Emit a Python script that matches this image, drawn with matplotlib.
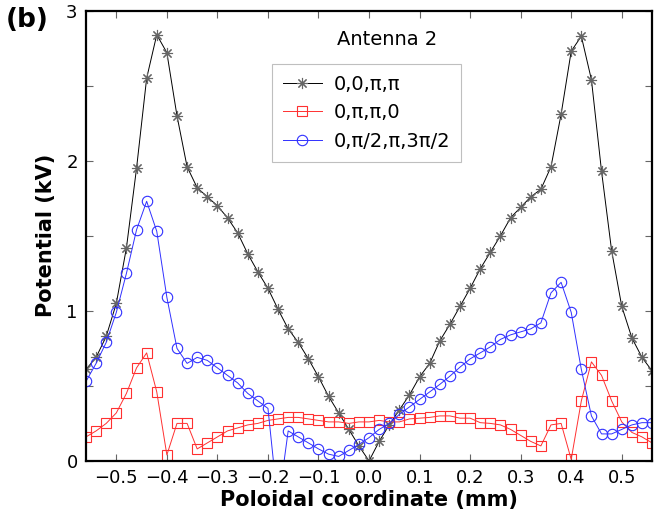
import matplotlib
matplotlib.use("Agg")
import matplotlib.pyplot as plt
from matplotlib.ticker import MultipleLocator

# Poloidal coordinate (mm), shared by all three curves
x_mm = [-0.56, -0.54, -0.52, -0.50, -0.48, -0.46, -0.44, -0.42, -0.40, -0.38,
        -0.36, -0.34, -0.32, -0.30, -0.28, -0.26, -0.24, -0.22, -0.20, -0.18,
        -0.16, -0.14, -0.12, -0.10, -0.08, -0.06, -0.04, -0.02, 0.00, 0.02,
        0.04, 0.06, 0.08, 0.10, 0.12, 0.14, 0.16, 0.18, 0.20, 0.22,
        0.24, 0.26, 0.28, 0.30, 0.32, 0.34, 0.36, 0.38, 0.40, 0.42,
        0.44, 0.46, 0.48, 0.50, 0.52, 0.54, 0.56]

# Potential (kV)
pot_00pp = [0.61, 0.69, 0.83, 1.05, 1.42, 1.95, 2.55, 2.84, 2.72, 2.30,
            1.96, 1.82, 1.76, 1.70, 1.62, 1.52, 1.38, 1.26, 1.15, 1.01,
            0.88, 0.79, 0.68, 0.56, 0.43, 0.32, 0.21, 0.10, 0.00, 0.13,
            0.24, 0.34, 0.44, 0.56, 0.65, 0.80, 0.91, 1.03, 1.15, 1.28,
            1.39, 1.50, 1.62, 1.69, 1.76, 1.81, 1.96, 2.31, 2.73, 2.83,
            2.54, 1.93, 1.40, 1.03, 0.82, 0.69, 0.60]
pot_0pp0 = [0.16, 0.20, 0.25, 0.32, 0.45, 0.62, 0.72, 0.46, 0.04, 0.25,
            0.25, 0.08, 0.12, 0.16, 0.20, 0.22, 0.24, 0.25, 0.27, 0.28,
            0.29, 0.29, 0.28, 0.27, 0.26, 0.26, 0.25, 0.26, 0.26, 0.27,
            0.26, 0.26, 0.28, 0.285, 0.29, 0.30, 0.30, 0.285, 0.285, 0.255,
            0.25, 0.24, 0.21, 0.17, 0.13, 0.10, 0.24, 0.25, 0.01, 0.40,
            0.66, 0.57, 0.40, 0.26, 0.19, 0.16, 0.12]
pot_quad = [0.53, 0.65, 0.79, 0.99, 1.25, 1.54, 1.73, 1.53, 1.09, 0.75,
            0.65, 0.69, 0.67, 0.62, 0.57, 0.52, 0.45, 0.40, 0.35, -0.30,
            0.20, 0.16, 0.12, 0.08, 0.045, 0.03, 0.07, 0.11, 0.155, 0.21,
            0.25, 0.31, 0.36, 0.41, 0.46, 0.51, 0.565, 0.625, 0.68, 0.72,
            0.76, 0.81, 0.84, 0.86, 0.88, 0.92, 1.12, 1.19, 0.99, 0.61,
            0.30, 0.18, 0.18, 0.21, 0.24, 0.255, 0.255]

labels = ["0,0,\u03c0,\u03c0", "0,\u03c0,\u03c0,0", "0,\u03c0/2,\u03c0,3\u03c0/2"]

plt.rcParams["font.family"] = ["DejaVu Sans"]

fig = plt.figure(figsize=(6.59, 5.22), dpi=100)
ax = fig.add_axes([0.1305, 0.117, 0.859, 0.8625])

ax.plot(x_mm, pot_00pp, color="k", lw=0.7, marker=(8, 2, 0), ms=8,
        mec="0.4", mew=0.8, label=labels[0])
ax.plot(x_mm, pot_0pp0, color="#ff3030", lw=0.7, marker="s", ms=7,
        mfc="none", mec="#ff3030", mew=0.8, label=labels[1])
ax.plot(x_mm, pot_quad, color="#3030ff", lw=0.7, marker="o", ms=7.5,
        mfc="none", mec="#3030ff", mew=0.8, label=labels[2])

ax.set_xlim(-0.56, 0.56)
ax.set_ylim(0, 3)
ax.xaxis.set_major_locator(MultipleLocator(0.1))
ax.yaxis.set_major_locator(MultipleLocator(1))
ax.yaxis.set_minor_locator(MultipleLocator(0.5))
ax.tick_params(which="both", direction="in", top=True, right=True,
               color="0.4", width=0.8, labelsize=13, pad=6)
ax.tick_params(which="major", length=5)
ax.tick_params(which="minor", length=5)
for s in ax.spines.values():
    s.set_linewidth(1.6)

ax.set_xlabel("Poloidal coordinate (mm)", fontsize=15, fontweight="bold", labelpad=2)
ax.set_ylabel("Potential (kV)", fontsize=15, fontweight="bold", labelpad=7)

leg = ax.legend(loc="upper left", bbox_to_anchor=(0.329, 0.882), fontsize=14,
                frameon=True, fancybox=False, framealpha=1, edgecolor="0.75",
                handlelength=2.0, handletextpad=0.6, labelspacing=0.5,
                borderpad=0.55, borderaxespad=0)
leg.get_frame().set_linewidth(0.8)

ax.text(0.532, 0.935, "Antenna 2", transform=ax.transAxes, fontsize=14,
        ha="center", va="center")
fig.text(0.008, 0.962, "(b)", fontsize=19, fontweight="bold", va="center")

fig.savefig("out.png", dpi=100)
